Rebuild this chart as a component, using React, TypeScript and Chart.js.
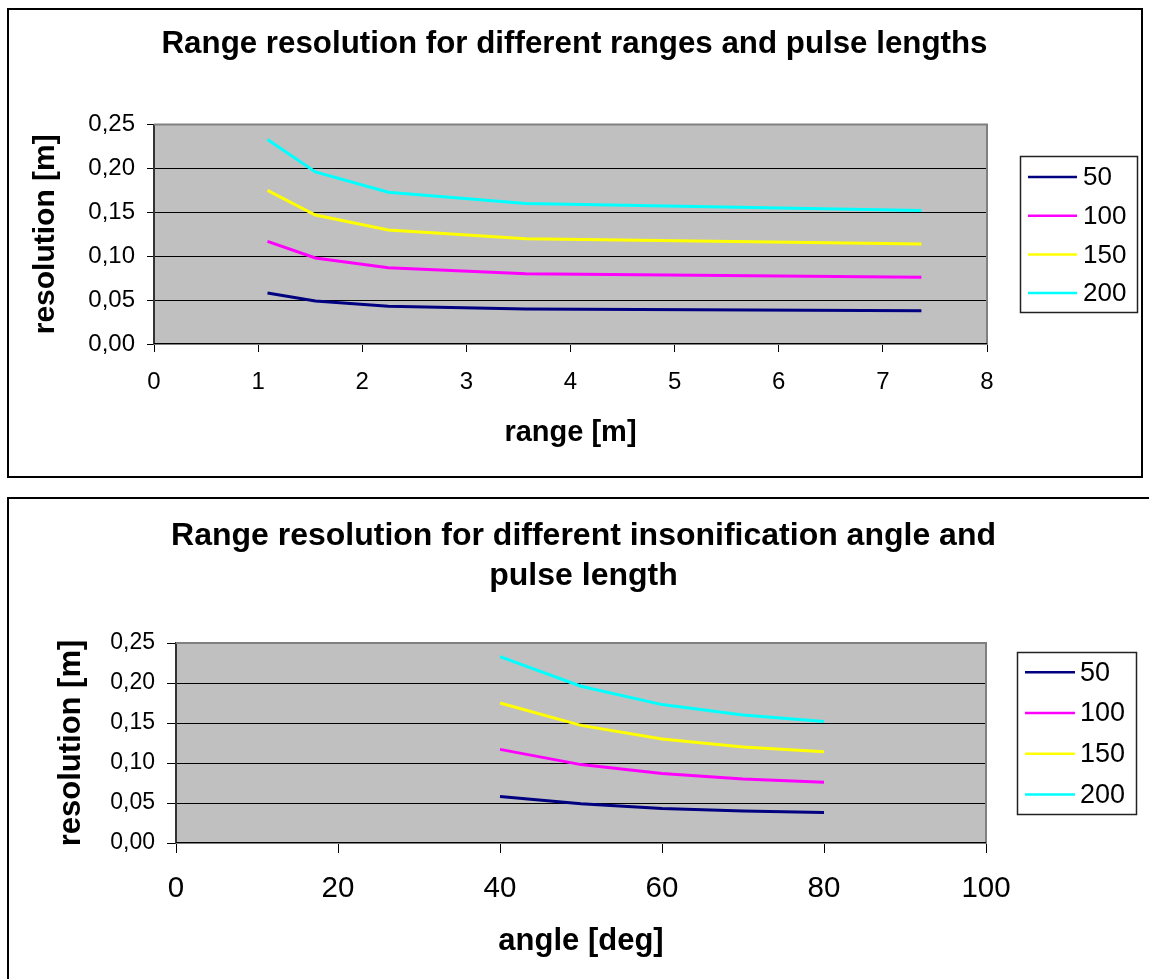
import React, { useEffect, useRef } from "react";
import { Chart, registerables } from "chart.js";

Chart.register(...registerables);

const FONT = "'Liberation Sans', Arial, Helvetica, sans-serif";

// ---- data ----
const pulseLengths = ["50", "100", "150", "200"];
const seriesColors = ["#000080", "#FF00FF", "#FFFF00", "#00FFFF"];
const rangeValues = [1.09, 1.55, 2.25, 3.57, 7.37];
const angleValues = [40, 50, 60, 70, 80];
const res50 = [0.058, 0.049, 0.043, 0.04, 0.038];
const res100 = [0.117, 0.098, 0.087, 0.08, 0.076];
const res150 = [0.175, 0.147, 0.13, 0.12, 0.114];
const res200 = [0.233, 0.196, 0.173, 0.16, 0.152];
const resolutionSeries = [res50, res100, res150, res200];

const topTitle = "Range resolution for different ranges and pulse lengths";
const bottomTitle = ["Range resolution for different insonification angle and", "pulse length"];

function buildDatasets(xs: number[]) {
  return pulseLengths.map((label, i) => ({
    label,
    data: xs.map((x, j) => ({ x, y: resolutionSeries[i][j] })),
    borderColor: seriesColors[i],
    backgroundColor: seriesColors[i],
    borderWidth: 3,
    pointRadius: 0,
    tension: 0,
    fill: false,
    xAxisID: "x",
    yAxisID: "y",
  }));
}

const fmtComma = (v: any) => Number(v).toFixed(2).replace(".", ",");

const plotFrame = {
  id: "plotFrame",
  beforeDraw(chart: any) {
    const { ctx, chartArea: a } = chart;
    ctx.save();
    ctx.fillStyle = "#C0C0C0";
    ctx.fillRect(a.left, a.top, a.right - a.left, a.bottom - a.top);
    ctx.restore();
  },
  beforeDatasetsDraw(chart: any) {
    const { ctx, chartArea: a } = chart;
    ctx.save();
    ctx.strokeStyle = "#808080";
    ctx.lineWidth = 2;
    ctx.beginPath();
    ctx.moveTo(a.left, a.top);
    ctx.lineTo(a.right, a.top);
    ctx.lineTo(a.right, a.bottom);
    ctx.lineTo(a.left, a.bottom);
    ctx.stroke();
    ctx.strokeStyle = "#000";
    ctx.lineWidth = 1;
    ctx.beginPath();
    ctx.moveTo(a.left, Math.round(a.bottom) - 0.5);
    ctx.lineTo(a.right, Math.round(a.bottom) - 0.5);
    ctx.stroke();
    ctx.restore();
  },
};

function makeLegendPlugin(cfg: any) {
  return {
    id: "boxLegend",
    afterDraw(chart: any) {
      const { ctx, chartArea } = chart;
      const left = Math.round(chartArea.right + cfg.gap);
      const top = cfg.top;
      ctx.save();
      ctx.fillStyle = "#fff";
      ctx.fillRect(left, top, cfg.width, cfg.height);
      ctx.strokeStyle = "#222";
      ctx.lineWidth = 1.5;
      ctx.strokeRect(left + 0.5, top + 0.5, cfg.width, cfg.height);
      ctx.font = `${cfg.fontSize}px ${FONT}`;
      ctx.textBaseline = "middle";
      ctx.textAlign = "left";
      chart.data.datasets.forEach((ds: any, i: number) => {
        const y = cfg.firstRow + i * cfg.rowGap;
        ctx.strokeStyle = ds.borderColor;
        ctx.lineWidth = 2.5;
        ctx.beginPath();
        ctx.moveTo(left + cfg.lineStart, y);
        ctx.lineTo(left + cfg.lineEnd, y);
        ctx.stroke();
        ctx.fillStyle = "#000";
        ctx.fillText(ds.label, left + cfg.textStart, y + 1);
      });
      ctx.restore();
    },
  };
}

function makeOptions(p: any) {
  return {
    responsive: false,
    animation: false,
    layout: { padding: { left: p.padLeft, right: 0, top: 0, bottom: 0 } },
    plugins: {
      legend: { display: false },
      tooltip: { enabled: false },
      title: {
        display: true,
        text: p.title,
        color: "#000",
        font: { family: FONT, size: p.titleSize, weight: "bold", lineHeight: p.titleLineHeight },
        padding: { top: p.titlePadTop, bottom: p.titlePadBottom },
      },
    },
    scales: {
      x: {
        type: "linear",
        position: "bottom",
        min: p.xMin,
        max: p.xMax,
        afterFit(s: any) {
          s.height = p.xHeight;
        },
        ticks: {
          stepSize: p.xStep,
          color: "#000",
          font: { family: FONT, size: p.xTickSize },
          padding: p.xTickPad,
          maxRotation: 0,
          autoSkip: false,
        },
        grid: { drawOnChartArea: false, drawTicks: true, tickLength: p.xTickLen, color: "#000", lineWidth: 1 },
        border: { display: false },
        title: {
          display: true,
          text: p.xTitle,
          color: "#000",
          font: { family: FONT, size: p.xTitleSize, weight: "bold" },
          padding: { top: 0, bottom: p.xTitlePad },
        },
      },
      y: {
        type: "linear",
        position: "left",
        min: 0,
        max: 0.25,
        afterFit(s: any) {
          s.width = p.yWidth;
        },
        ticks: {
          stepSize: 0.05,
          color: "#000",
          font: { family: FONT, size: p.yTickSize },
          padding: 12,
          callback: fmtComma,
        },
        grid: { drawOnChartArea: true, drawTicks: true, tickLength: p.yTickLen, color: "#000", lineWidth: 1 },
        border: { display: true, color: "#333", width: 2 },
        title: {
          display: true,
          text: "resolution [m]",
          color: "#000",
          font: { family: FONT, size: p.yTitleSize, weight: "bold" },
          padding: { top: p.yTitlePad, bottom: 0 },
        },
      },
      rightSpace: {
        type: "linear",
        position: "right",
        display: true,
        afterFit(s: any) {
          s.width = p.rightWidth;
        },
        ticks: { display: false },
        grid: { display: false },
        border: { display: false },
        title: { display: false },
      },
    },
  };
}

export default function App() {
  const topRef = useRef<HTMLCanvasElement | null>(null);
  const botRef = useRef<HTMLCanvasElement | null>(null);

  useEffect(() => {
    const charts: Chart[] = [];
    if (topRef.current) {
      charts.push(
        new Chart(topRef.current, {
          type: "line",
          data: { datasets: buildDatasets(rangeValues) as any },
          options: makeOptions({
            padLeft: 0,
            title: topTitle,
            titleSize: 31.3,
            titleLineHeight: 1.2,
            titlePadTop: 26,
            titlePadBottom: 61,
            xMin: 0,
            xMax: 8,
            xStep: 1,
            xHeight: 144,
            xTickSize: 24,
            xTickPad: 16,
            xTickLen: 8,
            xTitle: "range [m]",
            xTitleSize: 29,
            xTitlePad: 38,
            yWidth: 154,
            yTickSize: 24,
            yTickLen: 7,
            yTitleSize: 30,
            yTitlePad: 28,
            rightWidth: 162,
          }) as any,
          plugins: [
            plotFrame,
            makeLegendPlugin({
              gap: 33,
              top: 156,
              width: 117,
              height: 156,
              firstRow: 177,
              rowGap: 38.7,
              lineStart: 8,
              lineEnd: 57,
              textStart: 63,
              fontSize: 26,
            }),
          ] as any,
        })
      );
    }
    if (botRef.current) {
      charts.push(
        new Chart(botRef.current, {
          type: "line",
          data: { datasets: buildDatasets(angleValues) as any },
          options: makeOptions({
            padLeft: 18,
            title: bottomTitle,
            titleSize: 32,
            titleLineHeight: 1.25,
            titlePadTop: 28,
            titlePadBottom: 47,
            xMin: 0,
            xMax: 100,
            xStep: 20,
            xHeight: 136,
            xTickSize: 29.5,
            xTickPad: 18,
            xTickLen: 10,
            xTitle: "angle [deg]",
            xTitleSize: 31,
            xTitlePad: 19,
            yWidth: 158,
            yTickSize: 23,
            yTickLen: 9,
            yTitleSize: 31,
            yTitlePad: 35,
            rightWidth: 163,
          }) as any,
          plugins: [
            plotFrame,
            makeLegendPlugin({
              gap: 31,
              top: 164,
              width: 119,
              height: 162,
              firstRow: 184.3,
              rowGap: 40.7,
              lineStart: 8,
              lineEnd: 58,
              textStart: 63,
              fontSize: 27,
            }),
          ] as any,
        })
      );
    }
    return () => charts.forEach((c) => c.destroy());
  }, []);

  return (
    <div
      style={{
        position: "absolute",
        left: 0,
        top: 0,
        width: 1149,
        height: 979,
        overflow: "hidden",
        background: "#fff",
      }}
    >
      <div
        style={{
          position: "absolute",
          left: 7,
          top: 8,
          width: 1136,
          height: 470,
          boxSizing: "border-box",
          border: "2px solid #000",
        }}
      />
      <div
        style={{
          position: "absolute",
          left: 7,
          top: 497,
          width: 1200,
          height: 600,
          boxSizing: "border-box",
          border: "2px solid #000",
        }}
      />
      <canvas
        ref={topRef}
        width={1149}
        height={488}
        style={{ position: "absolute", left: 0, top: 0, width: 1149, height: 488 }}
      />
      <canvas
        ref={botRef}
        width={1149}
        height={491}
        style={{ position: "absolute", left: 0, top: 488, width: 1149, height: 491 }}
      />
    </div>
  );
}
